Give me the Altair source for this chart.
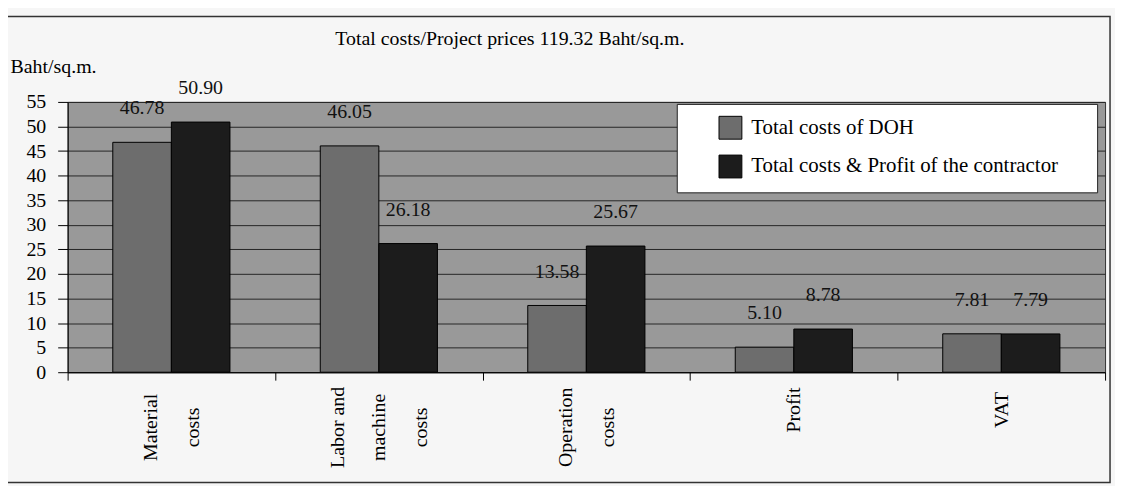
import altair as alt
import pandas as pd

# ---- data ----
categories = ["Material|costs", "Labor and|machine|costs", "Operation|costs", "Profit", "VAT"]
series = ["Total costs of DOH", "Total costs & Profit of the contractor"]
doh_values = [46.78, 46.05, 13.58, 5.10, 7.81]
contractor_values = [50.90, 26.18, 25.67, 8.78, 7.79]
y_ticks = [0, 5, 10, 15, 20, 25, 30, 35, 40, 45, 50, 55]
chart_title = "Total costs/Project prices 119.32 Baht/sq.m."
y_title = "Baht/sq.m."

rows = []
for c, a, b in zip(categories, doh_values, contractor_values):
    rows.append({"category": c, "series": series[0], "value": a})
    rows.append({"category": c, "series": series[1], "value": b})
df = pd.DataFrame(rows)

FONT = "Liberation Serif"
NBSP = "\u00a0"
ZW = "\u200b"  # zero-width, not trimmed by Vega


# multi-line rotated category labels, centred on each category
# (half-line slots with blank lines, whole block shifted by labelOffset)
def label_lines(cat):
    parts = cat.split("|")
    n = len(parts)
    if n == 1:
        parts = [ZW + NBSP * 7 + parts[0]]
    out = [ZW] * (3 - n)
    for i, p in enumerate(parts):
        if i > 0:
            out.append(ZW)
        out.append(p)
    return out


def js_str(s):
    return "'" + s.replace("'", "\\'") + "'"


expr = "''"
for cat in reversed(categories):
    arr = "[" + ", ".join(js_str(s) for s in label_lines(cat)) + "]"
    expr = f"datum.label == {js_str(cat)} ? {arr} : ({expr})"

x_axis = alt.Axis(
    title=None,
    labelExpr=expr,
    labelAngle=270,
    labelAlign="center",
    labelBaseline="middle",
    labelLineHeight=21,
    labelOffset=-42,
    labelPadding=47,
    labelFont=FONT,
    labelFontSize=20,
    labelColor="black",
    labelOverlap=False,
    tickBand="extent",
    tickSize=8,
    tickColor="black",
    domainColor="black",
    grid=False,
)
y_axis = alt.Axis(
    values=y_ticks,
    title=y_title,
    titleAngle=0,
    titleAlign="left",
    titleBaseline="middle",
    titleX=-58,
    titleY=-36,
    titleFont=FONT,
    titleFontSize=20,
    titleFontWeight="normal",
    titleColor="black",
    labelFont=FONT,
    labelFontSize=20,
    labelColor="black",
    labelPadding=12,
    labelOverlap=False,
    tickSize=10,
    tickColor="black",
    domainColor="black",
    grid=True,
    gridColor="#262626",
    gridWidth=1,
)

x_enc = alt.X("category:N", sort=categories,
              scale=alt.Scale(paddingInner=0, paddingOuter=0), axis=x_axis)
xoff_enc = alt.XOffset("series:N", sort=series,
                       scale=alt.Scale(paddingInner=0, paddingOuter=0.771))
y_enc = alt.Y("value:Q", scale=alt.Scale(domain=[0, 55], nice=False), axis=y_axis)

base = alt.Chart(df)

bars = base.mark_bar(stroke="black", strokeWidth=1).encode(
    x=x_enc,
    xOffset=xoff_enc,
    y=y_enc,
    color=alt.Color(
        "series:N",
        sort=series,
        scale=alt.Scale(domain=series, range=["#6d6d6d", "#1c1c1c"]),
        legend=alt.Legend(
            title=None,
            orient="none",
            legendX=613,
            legendY=2,
            fillColor="white",
            strokeColor="#222222",
            padding=12,
            symbolType="square",
            symbolSize=529,
            symbolStrokeColor="black",
            symbolStrokeWidth=1,
            symbolOffset=30,
            labelFont=FONT,
            labelFontSize=21,
            labelColor="black",
            labelOffset=9,
            labelLimit=600,
            labelExpr="datum.label + '" + NBSP * 5 + ZW + "'",
            rowPadding=11,
        ),
    ),
)

labels = base.mark_text(dy=-34, font=FONT, fontSize=20, color="#111111", baseline="middle").encode(
    x=x_enc,
    xOffset=xoff_enc,
    y=y_enc,
    text=alt.Text("value:Q", format=".2f"),
)

title_df = pd.DataFrame({"t": [chart_title]})
title_text = alt.Chart(title_df).mark_text(
    font=FONT, fontSize=20, color="black", align="center", baseline="middle"
).encode(x=alt.value(445), y=alt.value(-63), text="t:N")

frame = alt.Chart(title_df).mark_rect(fillOpacity=0, stroke="#333333", strokeWidth=1.5).encode(
    x=alt.value(-63), x2=alt.value(1049), y=alt.value(-86), y2=alt.value(383)
)

chart = (
    alt.layer(frame, bars, labels, title_text)
    .properties(
        width=1044,
        height=272,
        autosize="none",
        padding={"left": 60, "top": 93, "right": 10, "bottom": 113},
        background="#f6f6f6",
    )
    .configure_view(fill="#999999", stroke="#333333")
)

chart.save("out.html", embed_options={"renderer": "svg", "actions": False})
